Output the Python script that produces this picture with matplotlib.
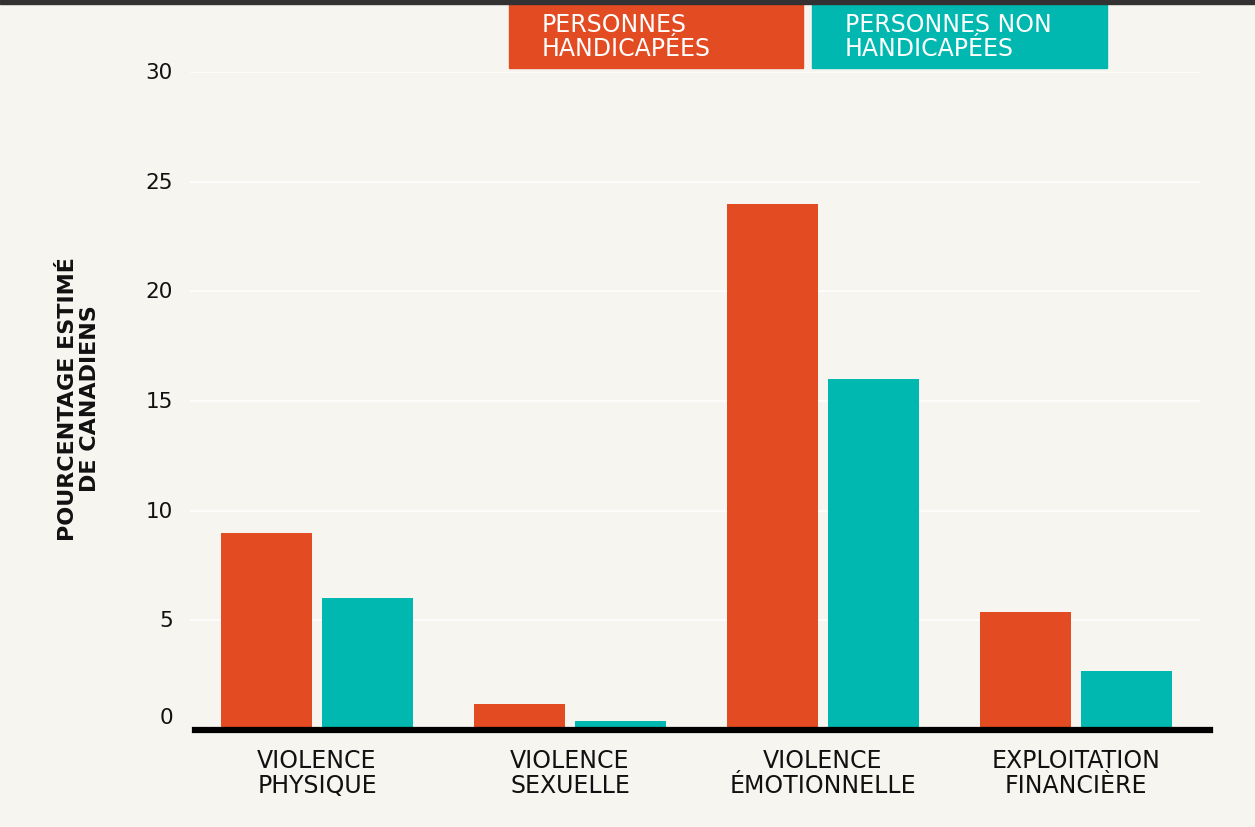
import matplotlib.pyplot as plt
import numpy as np
from matplotlib.patches import Rectangle
import matplotlib.transforms as mtransforms

categories = ["VIOLENCE\nPHYSIQUE", "VIOLENCE\nSEXUELLE", "VIOLENCE\nÉMOTIONNELLE", "EXPLOITATION\nFINANCIÈRE"]
handicap = [9.0, 1.2, 24.0, 5.4]
non_handicap = [6.0, 0.4, 16.0, 2.7]
yticks = [0, 5, 10, 15, 20, 25, 30]
series_names = ["PERSONNES\nHANDICAPÉES", "PERSONNES NON\nHANDICAPÉES"]

RED = '#E34C22'
TEAL = '#00B8B0'
BG = '#F7F5F0'

plt.rcParams['font.family'] = ['DejaVu Sans']

fig = plt.figure(figsize=(12.55, 8.28), dpi=100)
fig.patch.set_facecolor(BG)
ax = fig.add_axes([190/1255, 1-731/828, 1010/1255, 658/828])
ax.set_facecolor(BG)

x = np.arange(len(categories))
w = 0.36
ax.bar(x - 0.2, handicap, w, color=RED, zorder=3)
ax.bar(x + 0.2, non_handicap, w, color=TEAL, zorder=3)

ax.set_xlim(-0.502, 3.49)
ax.set_ylim(0, 30)
ax.set_yticks(yticks)
ax.set_yticklabels([])
ax.yaxis.grid(True, color='white', lw=1.1, zorder=0)
ax.set_axisbelow(True)
for s in ax.spines.values():
	s.set_visible(False)
ax.tick_params(axis='both', length=0)
ax.set_xticks([])

# y tick labels drawn by hand so the 0 can sit a bit above the axis line
trans = mtransforms.blended_transform_factory(ax.transAxes, ax.transData)
for v in yticks:
	off = mtransforms.ScaledTranslation(0, 13/100 if v == 0 else 0, fig.dpi_scale_trans)
	ax.text(-0.0168, v, str(v), transform=trans + off, ha='right', va='center',
		fontsize=15.5, color='#111111')

ax.axhline(0, xmin=0.005, xmax=1.01, color='black', lw=4.5, clip_on=False, zorder=4)

for i, c in enumerate(categories):
	ax.text(i, -0.8, c, ha='center', va='top', fontsize=17, color='#111111',
		linespacing=1.09)

fig.text(79/1255, 1-399/828, "POURCENTAGE ESTIMÉ\nDE CANADIENS", rotation=90,
	ha='center', va='center', fontsize=16, fontweight='bold', linespacing=1.15,
	color='#111111')

# legend boxes at the top
fig.patches.append(Rectangle((509/1255, 1-69/828), 294/1255, 64/828,
	transform=fig.transFigure, color=RED, zorder=1))
fig.patches.append(Rectangle((812/1255, 1-69/828), 295/1255, 64/828,
	transform=fig.transFigure, color=TEAL, zorder=1))
fig.text(542/1255, 1-37/828, series_names[0], ha='left', va='center',
	fontsize=17, color='white', linespacing=1.05)
fig.text(845/1255, 1-37/828, series_names[1], ha='left', va='center',
	fontsize=17, color='white', linespacing=1.05)

fig.patches.append(Rectangle((0, 1-5/828), 1, 5/828, transform=fig.transFigure,
	color='#333132', zorder=2))

plt.savefig('out.png', dpi=100, facecolor=BG)
